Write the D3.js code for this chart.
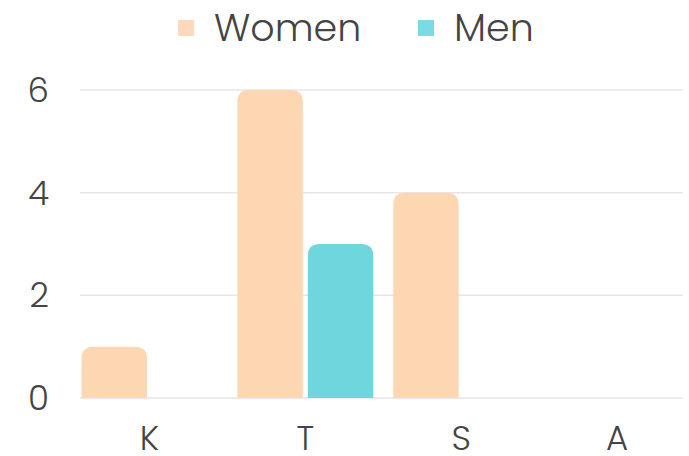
<!DOCTYPE html>
<html>
<head>
<meta charset="utf-8">
<script src="https://cdn.jsdelivr.net/npm/d3@7"></script>
<style>
  body { margin: 0; background: #fff; }
  text { font-family: "Poppins", "Inter", "Lato", sans-serif; font-weight: 300; fill: #444; }
</style>
</head>
<body>
<script>
// Chart data
var categories = ["K", "T", "S", "A"];
var seriesNames = ["Women", "Men"];
var women = [1, 6, 4, 0];
var men = [0, 3, 0, 0];
var yTicks = [0, 2, 4, 6];

var colors = { Women: "#fdd6b2", Men: "#6fd6de" };
var legendColors = { Women: "#fdd9bb", Men: "#7bdbe2" };

var width = 689,
    height = 456;

var svg = d3.select("body").append("svg")
    .attr("width", width)
    .attr("height", height);

// scales
var x = d3.scaleBand()
    .domain(categories)
    .range([71.5, 695]);

var x1 = d3.scaleBand()
    .domain(seriesNames)
    .range([0, x.bandwidth()])
    .paddingInner(0.071)
    .paddingOuter(0.142);

var y = d3.scaleLinear()
    .domain([0, 6])
    .range([398, 90]);

// grid lines
svg.selectAll("line.grid")
    .data(yTicks)
    .enter().append("line")
    .attr("class", "grid")
    .attr("x1", 80)
    .attr("x2", 683)
    .attr("y1", function(d) { return y(d); })
    .attr("y2", function(d) { return y(d); })
    .style("stroke", "#e6e6e6")
    .style("stroke-width", 1.5);

// y tick labels
svg.selectAll("text.ytick")
    .data(yTicks)
    .enter().append("text")
    .attr("class", "ytick")
    .attr("x", 49)
    .attr("y", function(d) { return y(d); })
    .attr("dy", "0.35em")
    .attr("text-anchor", "end")
    .style("font-size", "34px")
    .text(function(d) { return d; });

// x tick labels
svg.selectAll("text.xtick")
    .data(categories)
    .enter().append("text")
    .attr("class", "xtick")
    .attr("x", function(d) { return x(d) + x.bandwidth() / 2; })
    .attr("y", 438)
    .attr("dy", "0.35em")
    .attr("text-anchor", "middle")
    .style("font-size", "34px")
    .text(function(d) { return d; });

// rounded-top bar path
function barPath(x0, y0, w, h, r) {
    r = Math.min(r, w / 2, h);
    return "M" + x0 + "," + (y0 + h) +
        "V" + (y0 + r) +
        "Q" + x0 + "," + y0 + " " + (x0 + r) + "," + y0 +
        "H" + (x0 + w - r) +
        "Q" + (x0 + w) + "," + y0 + " " + (x0 + w) + "," + (y0 + r) +
        "V" + (y0 + h) + "Z";
}

var rows = [];
categories.forEach(function(c, i) {
    rows.push({ cat: c, series: "Women", value: women[i] });
    rows.push({ cat: c, series: "Men", value: men[i] });
});

svg.selectAll("path.bar")
    .data(rows.filter(function(d) { return d.value > 0; }))
    .enter().append("path")
    .attr("class", "bar")
    .attr("d", function(d) {
        var bx = x(d.cat) + x1(d.series);
        return barPath(bx, y(d.value), x1.bandwidth(), y(0) - y(d.value), 12);
    })
    .style("fill", function(d) { return colors[d.series]; });

// legend
var legendX = { Women: 178, Men: 418 };
var legend = svg.selectAll("g.legend")
    .data(seriesNames)
    .enter().append("g")
    .attr("class", "legend")
    .attr("transform", function(d) { return "translate(" + legendX[d] + ",0)"; });

legend.append("rect")
    .attr("x", 0)
    .attr("y", 20)
    .attr("width", 16)
    .attr("height", 16)
    .style("fill", function(d) { return legendColors[d]; });

legend.append("text")
    .attr("x", 36)
    .attr("y", 28)
    .attr("dy", "0.35em")
    .style("font-size", "38px")
    .text(function(d) { return d; });
</script>
</body>
</html>
